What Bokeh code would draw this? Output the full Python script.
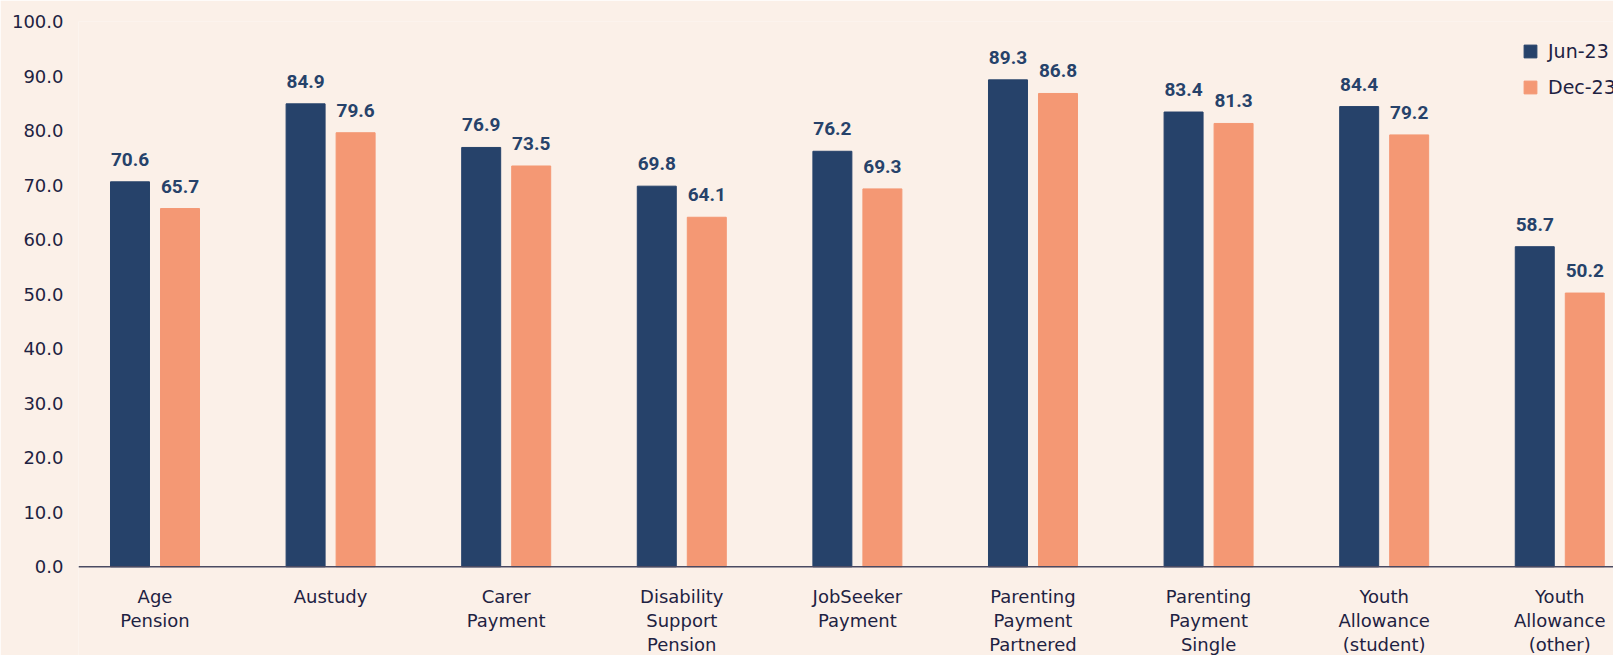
from bokeh.plotting import figure
from bokeh.models import (ColumnDataSource, FixedTicker, NumeralTickFormatter, Legend, LegendItem,
                          Range1d, LabelSet, Span)
from bokeh.core.properties import value
from bokeh.transform import dodge
from bokeh.embed import file_html
from bokeh.resources import INLINE

categories = ["Age Pension", "Austudy", "Carer Payment", "Disability Support Pension",
              "JobSeeker Payment", "Parenting Payment Partnered", "Parenting Payment Single",
              "Youth Allowance (student)", "Youth Allowance (other)"]
tick_labels = ["Age\nPension", "Austudy", "Carer\nPayment", "Disability\nSupport\nPension",
               "JobSeeker\nPayment", "Parenting\nPayment\nPartnered", "Parenting\nPayment\nSingle",
               "Youth\nAllowance\n(student)", "Youth\nAllowance\n(other)"]
jun23 = [70.6, 84.9, 76.9, 69.8, 76.2, 89.3, 83.4, 84.4, 58.7]
dec23 = [65.7, 79.6, 73.5, 64.1, 69.3, 86.8, 81.3, 79.2, 50.2]
series_names = ["Jun-23", "Dec-23"]
y_ticks = [0, 10, 20, 30, 40, 50, 60, 70, 80, 90, 100]

BG = "#FBF0E8"
NAVY = "#26426A"
ORANGE = "#F49874"
TEXT = "#1E2242"
AXIS_FONT = "DejaVu Sans"

xs = list(range(len(categories)))
lines = [t.split("\n") + [""] * (3 - len(t.split("\n"))) for t in tick_labels]
src = ColumnDataSource(dict(
    x=xs, zero=[0] * len(xs), jun=jun23, dec=dec23,
    l1=[l[0] for l in lines], l2=[l[1] for l in lines], l3=[l[2] for l in lines],
    jun_lbl=[f"{v:.1f}" for v in jun23],
    dec_lbl=[f"{v:.1f}" for v in dec23],
))

p = figure(width=1613, height=655, output_backend="svg", toolbar_location=None,
           x_range=Range1d(-0.4357, 8.306), y_range=Range1d(-16.27, 100),
           min_border_left=78, min_border_right=0, min_border_top=21, min_border_bottom=0)
p.background_fill_color = BG
p.border_fill_color = BG
p.outline_line_color = None
p.grid.visible = False

off = 0.1424
w = 0.222
r1 = p.vbar(x=dodge("x", -off, range=p.x_range), top="jun", bottom=0, width=w, source=src,
            fill_color=NAVY, line_color=NAVY)
r2 = p.vbar(x=dodge("x", off, range=p.x_range), top="dec", bottom=0, width=w, source=src,
            fill_color=ORANGE, line_color=ORANGE)

# baseline (x axis line)
p.add_layout(Span(location=0, dimension="width", line_color="#4A4A62", line_width=1.5))

# value labels
for field, lbl, sgn in (("jun", "jun_lbl", -1), ("dec", "dec_lbl", 1)):
    ls = LabelSet(x=dodge("x", sgn * off, range=p.x_range), y=field, text=lbl, source=src,
                  text_align="center", text_baseline="alphabetic", y_offset=16,
                  text_font=value("Roboto"), text_font_style="bold",
                  text_font_size=value("19px"), text_color=NAVY)
    p.add_layout(ls)

# category labels (one LabelSet per line, centred)
for col, yo in (("l1", -36.7), ("l2", -60.7), ("l3", -84.7)):
    p.add_layout(LabelSet(x="x", y="zero", text=col, source=src,
                          text_align="center", text_baseline="alphabetic", y_offset=yo,
                          text_font=value(AXIS_FONT), text_font_size=value("18px"),
                          text_color=TEXT))

p.xaxis.visible = False

p.yaxis.ticker = FixedTicker(ticks=y_ticks)
p.yaxis.formatter = NumeralTickFormatter(format="0.0")
p.yaxis.axis_line_color = None
p.yaxis.major_tick_line_color = None
p.yaxis.minor_tick_line_color = None
p.yaxis.major_label_standoff = 9
p.yaxis.major_label_text_font = AXIS_FONT
p.yaxis.major_label_text_font_size = "18px"
p.yaxis.major_label_text_color = TEXT

legend = Legend(items=[LegendItem(label=series_names[0], renderers=[r1]),
                       LegendItem(label=series_names[1], renderers=[r2])],
                location=(1444, 557), orientation="vertical",
                glyph_width=16, glyph_height=16, label_height=16, spacing=14,
                padding=0, margin=0, label_standoff=10,
                label_text_font=AXIS_FONT, label_text_font_size="19px", label_text_color=TEXT,
                border_line_color=None, background_fill_alpha=0)
p.add_layout(legend)

open("out.html", "w").write(file_html(p, INLINE))
